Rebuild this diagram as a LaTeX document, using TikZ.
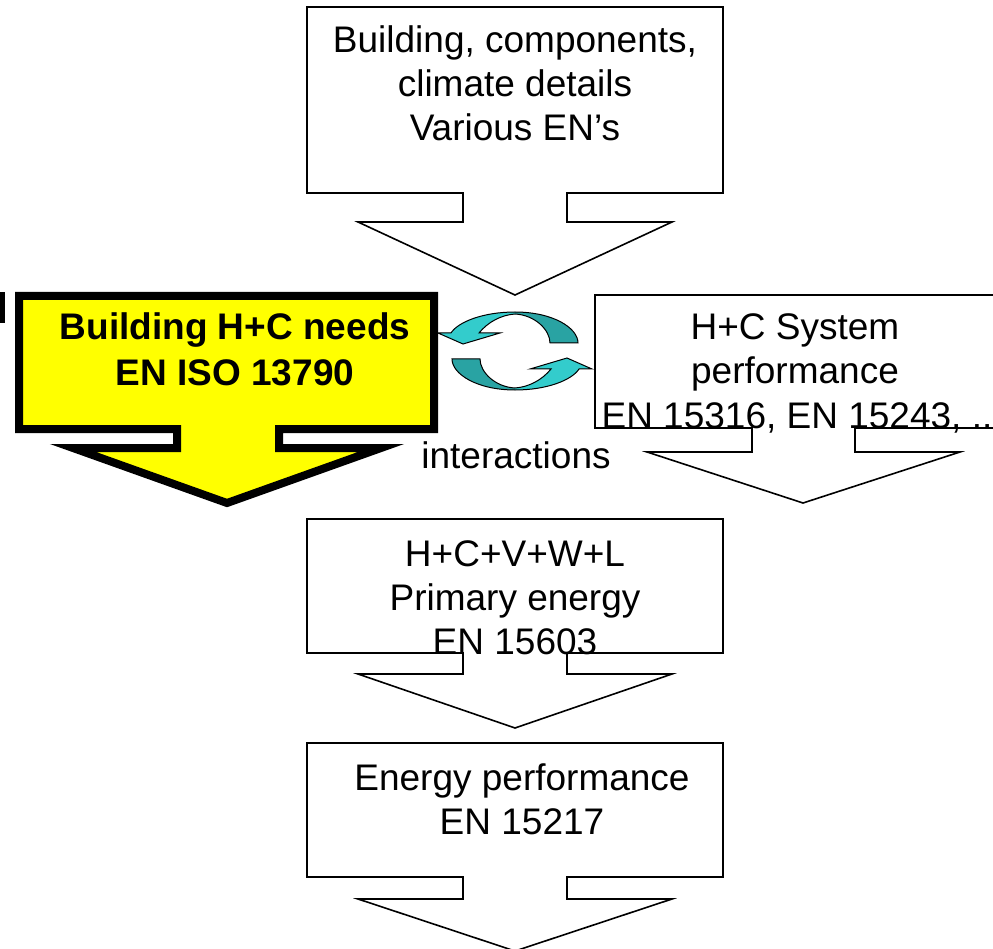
\documentclass[tikz,border=0pt]{standalone}
\usepackage{fontspec}
\setmainfont{Liberation Sans}
\definecolor{arrowyellow}{HTML}{FFFF00}
\definecolor{cyanlight}{HTML}{33CCCC}
\definecolor{cyandark}{HTML}{29A3A3}
\begin{document}
\begin{tikzpicture}[x=1pt,y=-1pt,
  callout/.style={draw=black, fill=white, line width=1.6pt, line join=miter},
  mainarrow/.style={draw=black, fill=arrowyellow, line width=8pt, line join=miter, miter limit=10},
  lbl/.style={anchor=base, inner sep=0pt, font=\fontsize{37}{44}\selectfont},
  lblb/.style={anchor=base, inner sep=0pt, font=\fontsize{37}{44}\selectfont\bfseries},
  cyclearrow/.pic={
    \fill[cyandark] (0,-39) .. controls (38,-39) and (63,-23) .. (63,-8)
      -- (35,-8) .. controls (35,-21) and (20,-36) .. (0,-37) -- cycle;
    \fill[cyanlight] (0,-39) .. controls (-32,-39) and (-57,-29) .. (-64,-18)
      -- (-77,-18) -- (-52,-7) -- (-15,-18) -- (-36,-18)
      .. controls (-27,-29) and (-14,-36) .. (0,-37) -- cycle;
    \draw[line width=1pt, line join=miter] (63,-8) .. controls (63,-23) and (38,-39) .. (0,-39)
      .. controls (-32,-39) and (-57,-29) .. (-64,-18)
      -- (-77,-18) -- (-52,-7) -- (-15,-18) -- (-36,-18)
      .. controls (-27,-29) and (-14,-36) .. (0,-37)
      .. controls (20,-36) and (35,-21) .. (35,-8) -- cycle;
  }
]
\useasboundingbox (0,0) rectangle (993,949);
\clip (0,0) rectangle (993,949);

% down-arrow callouts
\draw[callout] (307,7) -- (723,7) -- (723,193) -- (567,193) -- (567,222) -- (672,222)
  -- (515,295) -- (358,222) -- (463,222) -- (463,193) -- (307,193) -- cycle;
\draw[callout] (595,295) -- (1011,295) -- (1011,428) -- (855,428) -- (855,452) -- (960,452)
  -- (803,503) -- (647,452) -- (752,452) -- (752,428) -- (595,428) -- cycle;
\draw[callout] (307,519) -- (723,519) -- (723,653) -- (567,653) -- (567,674) -- (672,674)
  -- (515,728) -- (358,674) -- (463,674) -- (463,653) -- (307,653) -- cycle;
\draw[callout] (307,743) -- (723,743) -- (723,877) -- (567,877) -- (567,899) -- (672,899)
  -- (515,951) -- (358,899) -- (463,899) -- (463,877) -- (307,877) -- cycle;

% highlighted callout
\draw[mainarrow] (19,296) -- (434,296) -- (434,429) -- (279,429) -- (279,448) -- (381,448)
  -- (227,503) -- (73,448) -- (177,448) -- (177,429) -- (19,429) -- cycle;

% small mark at the left edge
\fill[black] (0,292) rectangle (5,323);

% interaction arrows
\pic at (515,351) {cyclearrow};
\pic[rotate=180] at (515,351) {cyclearrow};

% labels
\node[lbl] (inA) at (515,53) {Building, components,};
\node[lbl] (inB) at (515,97) {climate details};
\node[lbl] (inC) at (515,141) {Various EN’s};

\node[lblb] (needA) at (235,340) {Building H+C needs};
\node[lblb] (needB) at (235,385) {EN ISO 13790};

\node[lbl] (sysA) at (795,340) {H+C System};
\node[lbl] (sysB) at (795,384) {performance};
\node[lbl] (sysC) at (797,428) {EN 15316, EN 15243, ..};

\node[lbl] (inter) at (516,468) {interactions};

\node[lbl] (primA) at (515,566) {H+C+V+W+L};
\node[lbl] (primB) at (515,610) {Primary energy};
\node[lbl] (primC) at (515,654) {EN 15603};

\node[lbl] (perfA) at (522,790) {Energy performance};
\node[lbl] (perfB) at (522,834) {EN 15217};
\end{tikzpicture}
\end{document}
